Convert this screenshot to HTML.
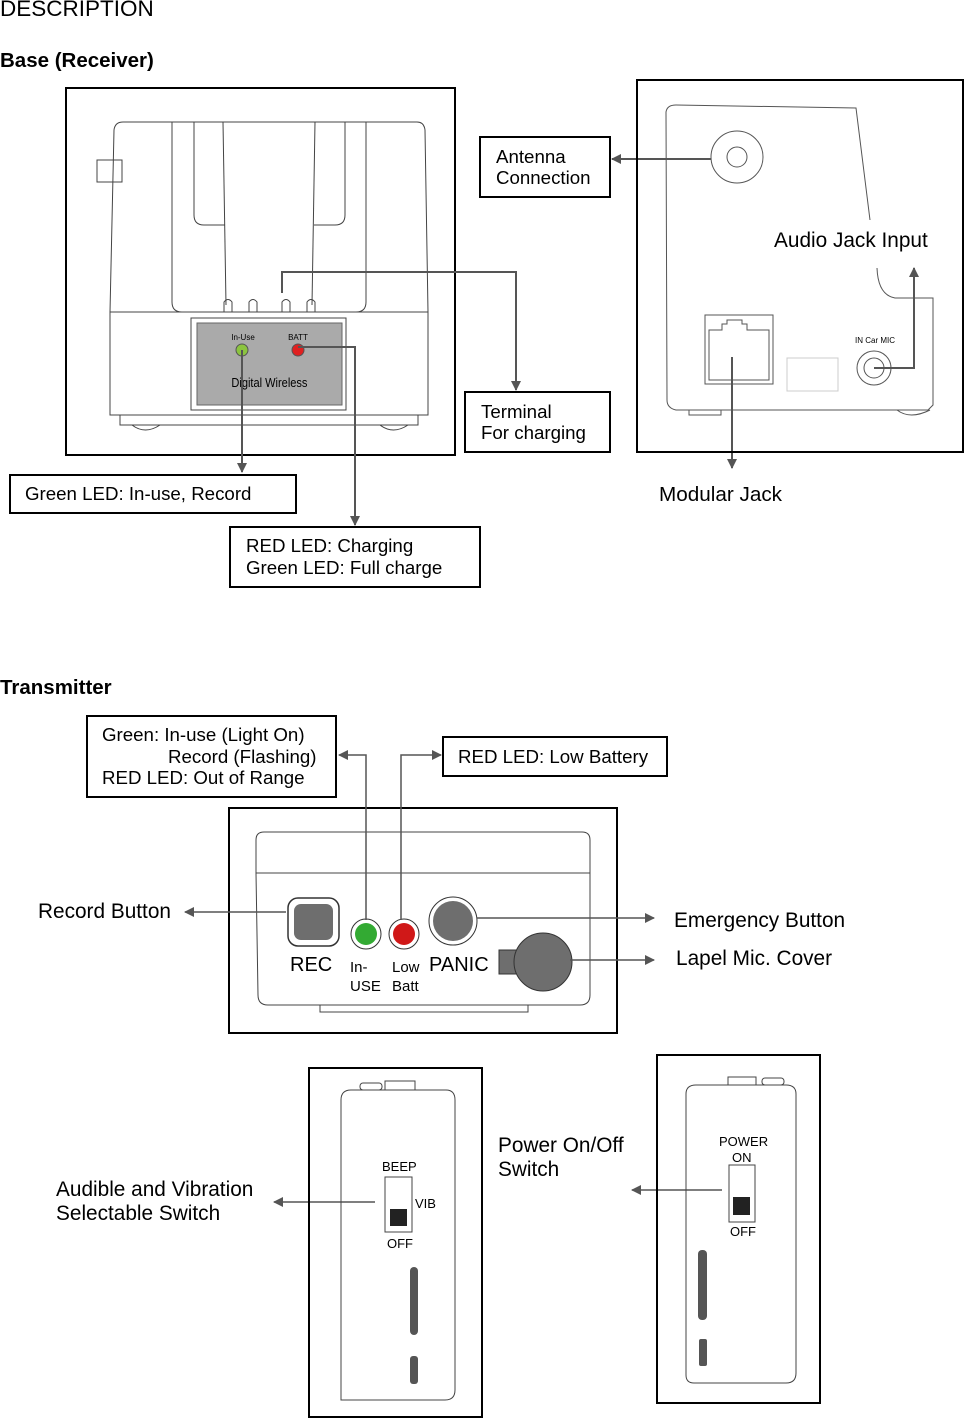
<!DOCTYPE html>
<html><head><meta charset="utf-8"><style>
html,body{margin:0;padding:0;background:#fff;}
svg{display:block;font-family:"Liberation Sans",Arial,sans-serif;}
</style></head><body>
<svg width="964" height="1418" viewBox="0 0 964 1418" xmlns="http://www.w3.org/2000/svg">
<defs>
<marker id="ah" markerWidth="10" markerHeight="10" refX="9" refY="5" orient="auto" markerUnits="userSpaceOnUse"><path d="M0,0 L10,5 L0,10 z" fill="#555"/></marker>
</defs>
<text x="0" y="16" font-size="22.5" fill="#000">DESCRIPTION</text>
<text x="0" y="67" font-size="20.5" font-weight="bold">Base (Receiver)</text>

<!-- Base left -->
<rect x="66" y="88" width="389" height="367" fill="none" stroke="#000" stroke-width="2"/>
<g fill="none" stroke="#444" stroke-width="1">
<rect x="97" y="160" width="25" height="22"/>
<path d="M110,312 L114,130 Q115,122 123,122 L417,122 Q424,122 425,130 L428,312"/>
<path d="M172,122 L172,302 Q172,312 182,312 L356,312 Q366,312 366,302 L366,122"/>
<path d="M194,122 L194,215 Q194,225 204,225 L225,225"/>
<path d="M223,122 L226,305"/><path d="M315,122 L312,305"/>
<path d="M345,122 L345,215 Q345,225 335,225 L314,225"/>
<path d="M224,312 L224,302 Q228,297 232,302 L232,312"/>
<path d="M249,312 L249,302 Q253,297 257,302 L257,312"/>
<path d="M282,312 L282,302 Q286,297 290,302 L290,312"/>
<path d="M307,312 L307,302 Q311,297 315,302 L315,312"/>
<rect x="110" y="312" width="318" height="103"/>
<rect x="120" y="415" width="298" height="10"/>
<path d="M132,425 Q145,435 160,425"/><path d="M380,425 Q393,435 408,425"/>
<rect x="191" y="318" width="155" height="92"/>
</g>
<rect x="197" y="323" width="145" height="82" fill="#aaa" stroke="#666"/>
<text x="243" y="340" font-size="8" text-anchor="middle">In-Use</text>
<text x="298" y="340" font-size="8" text-anchor="middle">BATT</text>
<circle cx="242" cy="350" r="6" fill="#8bc43f" stroke="#555"/>
<circle cx="298" cy="350" r="6" fill="#e02020" stroke="#555"/>
<text x="270" y="387" font-size="13" text-anchor="middle" transform="scale(0.85,1) translate(47,0)">Digital Wireless</text>

<g fill="none" stroke="#555" stroke-width="2">
<path d="M242,350 L242,472" marker-end="url(#ah)"/>
<path d="M298,347 L355,347 L355,525" marker-end="url(#ah)"/>
<path d="M282,293 L282,272 L516,272 L516,390" marker-end="url(#ah)"/>
<path d="M711,159 L612,159" marker-end="url(#ah)"/>
<path d="M874,368 L914,368 L914,268" marker-end="url(#ah)"/>
<path d="M732,357 L732,468" marker-end="url(#ah)"/>
</g>

<g fill="#fff" stroke="#000" stroke-width="2">
<rect x="480" y="137" width="130" height="60"/>
<rect x="465" y="392" width="145" height="60"/>
<rect x="10" y="475" width="286" height="38"/>
<rect x="230" y="527" width="250" height="60"/>
</g>
<g font-size="18.7">
<text x="496" y="163">Antenna</text><text x="496" y="184">Connection</text>
<text x="481" y="418">Terminal</text><text x="481" y="439">For charging</text>
<text x="25" y="500">Green LED: In-use, Record</text>
<text x="246" y="552">RED LED: Charging</text><text x="246" y="574">Green LED: Full charge</text>
<text x="659" y="501" font-size="20.7">Modular Jack</text>
</g>

<!-- Base right -->
<rect x="637" y="80" width="326" height="372" fill="none" stroke="#000" stroke-width="2"/>
<g fill="none" stroke="#555" stroke-width="1">
<path d="M667,400 L666,112 Q667,105 676,105 L856,108 L870,220"/>
<path d="M877,268 Q878,295 895,298 L933,298 L933,405 L928,410 L676,410 Q667,408 667,400"/>
<circle cx="737" cy="157" r="26"/><circle cx="737" cy="157" r="10"/>
<rect x="705" y="315" width="68" height="69"/>
<path d="M709,380 L709,330 L722,330 L722,324 L727,324 L727,320 L742,320 L742,324 L747,324 L747,330 L769,330 L769,380 Z"/>
<rect x="787" y="358" width="51" height="33" stroke="#ccc"/>
<circle cx="874" cy="368" r="17"/><circle cx="874" cy="368" r="10"/>
<rect x="689" y="410" width="32" height="5"/>
<path d="M897,410 Q910,420 930,410"/>
</g>
<text x="875" y="343" font-size="8" text-anchor="middle">IN Car MIC</text>
<text x="774" y="247" font-size="20.8">Audio Jack Input</text>

<!-- Transmitter -->
<text x="0" y="694" font-size="20.5" font-weight="bold">Transmitter</text>
<g fill="#fff" stroke="#000" stroke-width="2">
<rect x="87" y="716" width="249" height="81"/>
<rect x="443" y="737" width="224" height="39"/>
</g>
<g font-size="18.7">
<text x="102" y="741">Green: In-use (Light On)</text>
<text x="168" y="763">Record (Flashing)</text>
<text x="102" y="784">RED LED: Out of Range</text>
<text x="458" y="763">RED LED: Low Battery</text>
</g>
<rect x="229" y="808" width="388" height="225" fill="none" stroke="#000" stroke-width="2"/>
<g fill="none" stroke="#444" stroke-width="1">
<path d="M256,873 L256,840 Q256,832 264,832 L582,832 Q590,832 590,840 L590,873"/>
<path d="M256,873 L590,873 L590,995 Q590,1005 580,1005 L268,1005 Q258,1005 258,995 Z"/>
<rect x="320" y="1005" width="208" height="7"/>
</g>
<rect x="288" y="898" width="51" height="48" rx="10" fill="#fff" stroke="#333" stroke-width="1.5"/>
<rect x="294" y="904" width="39" height="36" rx="7" fill="#6e6e6e"/>
<circle cx="366" cy="934" r="15" fill="#fff" stroke="#333"/><circle cx="366" cy="934" r="11" fill="#33aa33"/>
<circle cx="404" cy="934" r="15" fill="#fff" stroke="#333"/><circle cx="404" cy="934" r="11" fill="#d01818"/>
<circle cx="453" cy="921" r="24" fill="#fff" stroke="#333"/><circle cx="453" cy="921" r="20" fill="#6e6e6e"/>
<rect x="499" y="950" width="30" height="24" fill="#6e6e6e" stroke="#333"/>
<circle cx="543" cy="962" r="29" fill="#6e6e6e" stroke="#333"/>
<g font-size="20"><text x="290" y="971">REC</text><text x="429" y="971">PANIC</text></g>
<g font-size="15"><text x="350" y="972">In-</text><text x="350" y="991">USE</text><text x="392" y="972">Low</text><text x="392" y="991">Batt</text></g>
<g fill="none" stroke="#555" stroke-width="1.5">
<path d="M366,920 L366,755 L339,755" marker-end="url(#ah)"/>
<path d="M401,920 L401,755 L441,755" marker-end="url(#ah)"/>
<path d="M286,912 L185,912" marker-end="url(#ah)"/>
<path d="M477,918 L654,918" marker-end="url(#ah)"/>
<path d="M570,960 L654,960" marker-end="url(#ah)"/>
<path d="M375,1202 L274,1202" marker-end="url(#ah)"/>
<path d="M722,1190 L632,1190" marker-end="url(#ah)"/>
</g>
<g font-size="20.8">
<text x="38" y="918">Record Button</text>
<text x="674" y="927">Emergency Button</text>
<text x="676" y="965">Lapel Mic. Cover</text>
<text x="56" y="1196">Audible and Vibration</text><text x="56" y="1220">Selectable Switch</text>
<text x="498" y="1152">Power On/Off</text><text x="498" y="1176">Switch</text>
</g>

<!-- bottom devices -->
<rect x="309" y="1068" width="173" height="349" fill="none" stroke="#000" stroke-width="2"/>
<g fill="none" stroke="#444" stroke-width="1">
<path d="M341,1400 L341,1100 Q341,1090 351,1090 L446,1090 Q455,1090 455,1100 L455,1390 Q455,1400 445,1400 Z"/>
<rect x="360" y="1083" width="22" height="7" rx="3"/><rect x="385" y="1081" width="30" height="9"/>
<rect x="385" y="1177" width="27" height="55"/>
</g>
<rect x="390" y="1209" width="17" height="17" fill="#222"/>
<rect x="410" y="1267" width="8" height="68" rx="4" fill="#555"/>
<rect x="410" y="1356" width="8" height="28" rx="3" fill="#555"/>
<g font-size="13"><text x="382" y="1171">BEEP</text><text x="415" y="1208">VIB</text><text x="387" y="1248">OFF</text></g>

<rect x="657" y="1055" width="163" height="348" fill="none" stroke="#000" stroke-width="2"/>
<g fill="none" stroke="#444" stroke-width="1">
<path d="M686,1375 L686,1094 Q686,1085 696,1085 L786,1085 Q796,1085 796,1094 L796,1373 Q796,1383 786,1383 L694,1383 Q686,1383 686,1375 Z"/>
<rect x="728" y="1077" width="28" height="8"/><rect x="762" y="1078" width="22" height="7" rx="3"/>
<rect x="729" y="1165" width="26" height="57"/>
</g>
<rect x="733" y="1197" width="17" height="18" fill="#222"/>
<rect x="698" y="1250" width="9" height="70" rx="4" fill="#555"/>
<rect x="699" y="1339" width="8" height="27" rx="2" fill="#555"/>
<g font-size="13"><text x="719" y="1146">POWER</text><text x="732" y="1162">ON</text><text x="730" y="1236">OFF</text></g>
</svg>
</body></html>
